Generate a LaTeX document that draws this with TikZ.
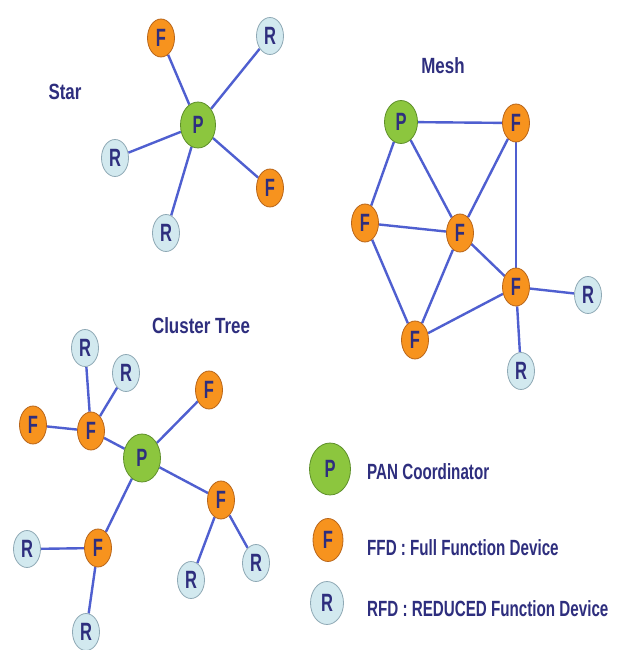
\documentclass[tikz,border=0pt]{standalone}
\usepackage{fontspec}
\setmainfont{Liberation Sans}
\newfontfamily\ttlfont[FakeStretch=0.77]{Liberation Sans}
\newfontfamily\lgdfont[FakeStretch=0.69]{Liberation Sans}
\newfontfamily\ndfont[FakeStretch=0.66]{Liberation Sans}
\usetikzlibrary{shapes.geometric,backgrounds}
\definecolor{navy}{HTML}{2E2E7E}
\definecolor{pfill}{HTML}{8CC63E}
\definecolor{pdraw}{HTML}{5E8F2A}
\definecolor{ffill}{HTML}{F7931E}
\definecolor{fdraw}{HTML}{B8651A}
\definecolor{rfill}{HTML}{D2E9EF}
\definecolor{rdraw}{HTML}{8FA9B5}
\definecolor{edgec}{HTML}{4F5FD0}
\tikzset{
  dev/.style={ellipse, inner sep=0pt, line width=0.8pt, text=navy,
    font=\ndfont\bfseries\fontsize{25}{25}\selectfont},
  pn/.style={dev, fill=pfill, draw=pdraw, minimum width=35pt, minimum height=46pt},
  fn/.style={dev, fill=ffill, draw=fdraw, minimum width=27pt, minimum height=38pt},
  rn/.style={dev, fill=rfill, draw=rdraw, minimum width=27pt, minimum height=37pt},
  lgP/.style={pn, minimum width=41pt, minimum height=52pt},
  lgF/.style={fn, minimum width=30pt, minimum height=43pt},
  lgR/.style={rn, minimum width=33pt, minimum height=43pt},
  ttl/.style={text=navy, inner sep=0pt, font=\ttlfont\bfseries\fontsize{22}{22}\selectfont},
  lgd/.style={text=navy, inner sep=0pt, anchor=west, font=\lgdfont\bfseries\fontsize{22}{22}\selectfont},
  link/.style={draw=edgec, line width=2.4pt}
}
\begin{document}
\begin{tikzpicture}[x=1pt, y=-1pt]
\useasboundingbox (0,0) rectangle (618,650);
% Star
\node[ttl] (tStar) at (65,92) {Star};
\node[pn] (sP) at (198,125) {P};
\node[fn] (sF1) at (161,38) {F};
\node[rn] (sR1) at (270,36) {R};
\node[rn] (sR2) at (115,158) {R};
\node[fn] (sF2) at (270,188) {F};
\node[rn] (sR3) at (166,233) {R};
% Mesh
\node[ttl] (tMesh) at (443,66) {Mesh};
\node[pn, minimum width=33pt, minimum height=43pt] (mP) at (401,122) {P};
\node[fn] (mF1) at (516,123) {F};
\node[fn] (mF2) at (365,223) {F};
\node[fn] (mF3) at (460,233) {F};
\node[fn] (mF4) at (516,287) {F};
\node[fn] (mF5) at (415,340) {F};
\node[rn] (mR1) at (588,295) {R};
\node[rn] (mR2) at (521,371) {R};
% Cluster tree
\node[ttl] (tTree) at (201,326) {Cluster Tree};
\node[rn] (cR1) at (85,348) {R};
\node[rn] (cR2) at (126,373) {R};
\node[fn] (cF1) at (33,425) {F};
\node[fn] (cF2) at (91,431) {F};
\node[pn, minimum width=37pt, minimum height=48pt] (cP) at (142,458) {P};
\node[fn] (cF3) at (209,390) {F};
\node[fn] (cF4) at (221,500) {F};
\node[rn] (cR3) at (191,580) {R};
\node[rn] (cR4) at (256,563) {R};
\node[fn] (cF5) at (98,548) {F};
\node[rn] (cR5) at (27,549) {R};
\node[rn] (cR6) at (86,632) {R};
% Legend
\node[lgP] (lP) at (330,469) {P};
\node[lgF] (lF) at (328,540) {F};
\node[lgR] (lR) at (327,603) {R};
\node[lgd] (lPt) at (367,472) {PAN Coordinator};
\node[lgd] (lFt) at (367,548) {FFD : Full Function Device};
\node[lgd] (lRt) at (367,609) {RFD : REDUCED Function Device};
\begin{scope}[on background layer]
\fill[white] (0,0) rectangle (618,650);
\foreach \a/\b in {sP/sF1, sP/sR1, sP/sR2, sP/sF2, sP/sR3,
  mP/mF1, mP/mF2, mP/mF3, mF2/mF3, mF2/mF5, mF3/mF1, mF3/mF5, mF3/mF4,
  mF1/mF4, mF5/mF4, mF4/mR1, mF4/mR2,
  cP/cF2, cF2/cF1, cF2/cR1, cF2/cR2, cP/cF3, cP/cF4, cF4/cR3, cF4/cR4,
  cP/cF5, cF5/cR5, cF5/cR6}
  \draw[link] (\a) -- (\b);
\end{scope}
\end{tikzpicture}
\end{document}
